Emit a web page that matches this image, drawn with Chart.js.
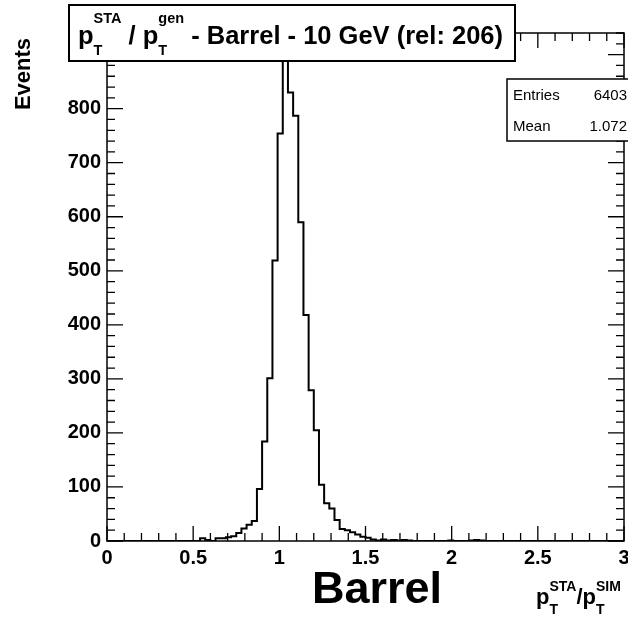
<!DOCTYPE html>
<html>
<head>
<meta charset="UTF-8">
<title>pT STA / pT gen - Barrel</title>
<script src="https://cdn.jsdelivr.net/npm/chart.js"></script>
<style>
  body { margin: 0; background: #fff; }
  #c { display: block; }
</style>
</head>
<body>
<canvas id="c" width="628" height="620"></canvas>
<script>
// histogram binning (100 bins from 0 to 3)
var xMin = 0;
var xMax = 3;
var nBins = 100;
var yMax = 940;

// bin contents
var counts = [
  0, 0, 0, 0, 0, 0, 0, 0, 0, 0,
  0, 0, 0, 0, 0, 0, 0, 0, 5, 2,
  0, 5, 5, 7, 9, 15, 23, 30, 37, 96,
  184, 301, 519, 754, 903, 830, 787, 590, 418, 279,
  205, 104, 70, 60, 39, 22, 20, 16, 12, 8,
  6, 3, 1, 3, 1, 2, 1, 2, 1, 0,
  0, 0, 0, 0, 0, 0, 1, 0, 0, 0,
  1, 2, 1, 0, 0, 0, 0, 0, 0, 0,
  0, 0, 0, 0, 0, 0, 0, 0, 0, 0,
  0, 0, 0, 0, 0, 0, 0, 0, 0, 0
];

var statNames = ['Entries', 'Mean'];
var statValues = ['6403', '1.072'];

var binWidth = (xMax - xMin) / nBins;
var points = counts.map(function (c, i) {
  return { x: xMin + i * binWidth, y: c };
});
points.push({ x: xMax, y: counts[nBins - 1] });

var FONT = '"Liberation Sans", Arial, Helvetica, sans-serif';

// draws text pieces one after another, with sup/sub stacked pieces
function drawRich(ctx, parts, x, y) {
  parts.forEach(function (p) {
    if (p.sup !== undefined) {
      ctx.font = 'bold ' + p.small + 'px ' + FONT;
      var w1 = ctx.measureText(p.sup).width;
      var w2 = ctx.measureText(p.sub).width;
      ctx.fillText(p.sup, x, y - p.up);
      ctx.fillText(p.sub, x, y + p.down);
      x += Math.max(w1, w2);
    } else {
      ctx.font = 'bold ' + p.size + 'px ' + FONT;
      ctx.fillText(p.t, x, y);
      x += ctx.measureText(p.t).width;
    }
  });
}

var rootPlugin = {
  id: 'rootStyle',
  afterDatasetsDraw: function (chart) {
    var ctx = chart.ctx;
    var a = chart.chartArea;
    var xs = chart.scales.x;
    var ys = chart.scales.y;
    ctx.save();
    ctx.strokeStyle = '#000';
    ctx.lineWidth = 1.5;
    ctx.strokeRect(a.left, a.top, a.right - a.left, a.bottom - a.top);

    ctx.lineWidth = 1.3;
    ctx.beginPath();
    // x ticks, major every 0.5, minor every 0.1
    for (var k = 0; k <= 30; k++) {
      var v = xMin + k * 0.1;
      var px = xs.getPixelForValue(v);
      var len = (k % 5 === 0) ? 15 : 8;
      ctx.moveTo(px, a.bottom); ctx.lineTo(px, a.bottom - len);
      ctx.moveTo(px, a.top); ctx.lineTo(px, a.top + len);
    }
    // y ticks, major every 100, minor every 20
    for (var j = 0; j * 20 <= yMax; j++) {
      var py = ys.getPixelForValue(j * 20);
      var ylen = (j % 5 === 0) ? 16 : 8;
      ctx.moveTo(a.left, py); ctx.lineTo(a.left + ylen, py);
      ctx.moveTo(a.right, py); ctx.lineTo(a.right - ylen, py);
    }
    ctx.stroke();
    ctx.restore();
  },
  afterDraw: function (chart) {
    var ctx = chart.ctx;
    ctx.save();
    ctx.fillStyle = '#000';
    ctx.textBaseline = 'alphabetic';

    // title box
    ctx.fillStyle = '#fff';
    ctx.fillRect(69, 5, 446, 56);
    ctx.strokeStyle = '#000';
    ctx.lineWidth = 2;
    ctx.strokeRect(69, 5, 446, 56);
    ctx.fillStyle = '#000';
    drawRich(ctx, [
      { t: 'p', size: 25.5 },
      { sup: 'STA', sub: 'T', small: 14.5, up: 21, down: 11 },
      { t: ' / p', size: 25.5 },
      { sup: 'gen', sub: 'T', small: 14.5, up: 21, down: 11 },
      { t: ' - Barrel - 10 GeV (rel: 206)', size: 25.5 }
    ], 78, 44);

    // stats box
    ctx.fillStyle = '#fff';
    ctx.fillRect(507, 79, 130, 62);
    ctx.lineWidth = 1.5;
    ctx.strokeRect(507, 79, 130, 62);
    ctx.fillStyle = '#000';
    ctx.font = '15px ' + FONT;
    for (var i = 0; i < statNames.length; i++) {
      ctx.textAlign = 'left';
      ctx.fillText(statNames[i], 513, 100 + i * 31);
      ctx.textAlign = 'right';
      ctx.fillText(statValues[i], 627, 100 + i * 31);
    }

    // y title
    ctx.save();
    ctx.translate(30, 74);
    ctx.rotate(-Math.PI / 2);
    ctx.textAlign = 'center';
    ctx.font = 'bold 22px ' + FONT;
    ctx.fillText('Events', 0, 0);
    ctx.restore();

    // big label
    ctx.textAlign = 'center';
    ctx.font = 'bold 45px ' + FONT;
    ctx.fillText('Barrel', 377, 603);

    // x title
    ctx.textAlign = 'left';
    drawRich(ctx, [
      { t: 'p', size: 22 },
      { sup: 'STA', sub: 'T', small: 14, up: 13, down: 10 },
      { t: '/p', size: 22 },
      { sup: 'SIM', sub: 'T', small: 14, up: 13, down: 10 }
    ], 536, 604);
    ctx.restore();
  }
};

new Chart(document.getElementById('c'), {
  type: 'line',
  data: {
    datasets: [{
      data: points,
      stepped: 'before',
      borderColor: '#000',
      borderWidth: 2,
      pointRadius: 0,
      fill: false,
      tension: 0
    }]
  },
  options: {
    responsive: false,
    animation: false,
    devicePixelRatio: 1,
    layout: { padding: { top: 33, right: 4, left: 0, bottom: 0 } },
    plugins: { legend: { display: false }, tooltip: { enabled: false } },
    scales: {
      x: {
        type: 'linear',
        min: xMin,
        max: xMax,
        grid: { display: false, drawTicks: false },
        border: { display: false },
        ticks: {
          stepSize: 0.5,
          padding: 5,
          color: '#000',
          maxRotation: 0,
          font: { family: FONT, size: 20, weight: 'bold' },
          callback: function (v) { return String(Math.round(v * 10) / 10); }
        },
        afterFit: function (s) { s.height = 79; s.paddingRight = 0; }
      },
      y: {
        min: 0,
        max: yMax,
        grid: { display: false, drawTicks: false },
        border: { display: false },
        ticks: {
          stepSize: 100,
          padding: 6,
          color: '#000',
          font: { family: FONT, size: 20, weight: 'bold' }
        },
        afterBuildTicks: function (s) {
          s.ticks = s.ticks.filter(function (t) { return t.value % 100 === 0; });
        },
        afterFit: function (s) { s.width = 107; }
      }
    }
  },
  plugins: [rootPlugin]
});
</script>
</body>
</html>
